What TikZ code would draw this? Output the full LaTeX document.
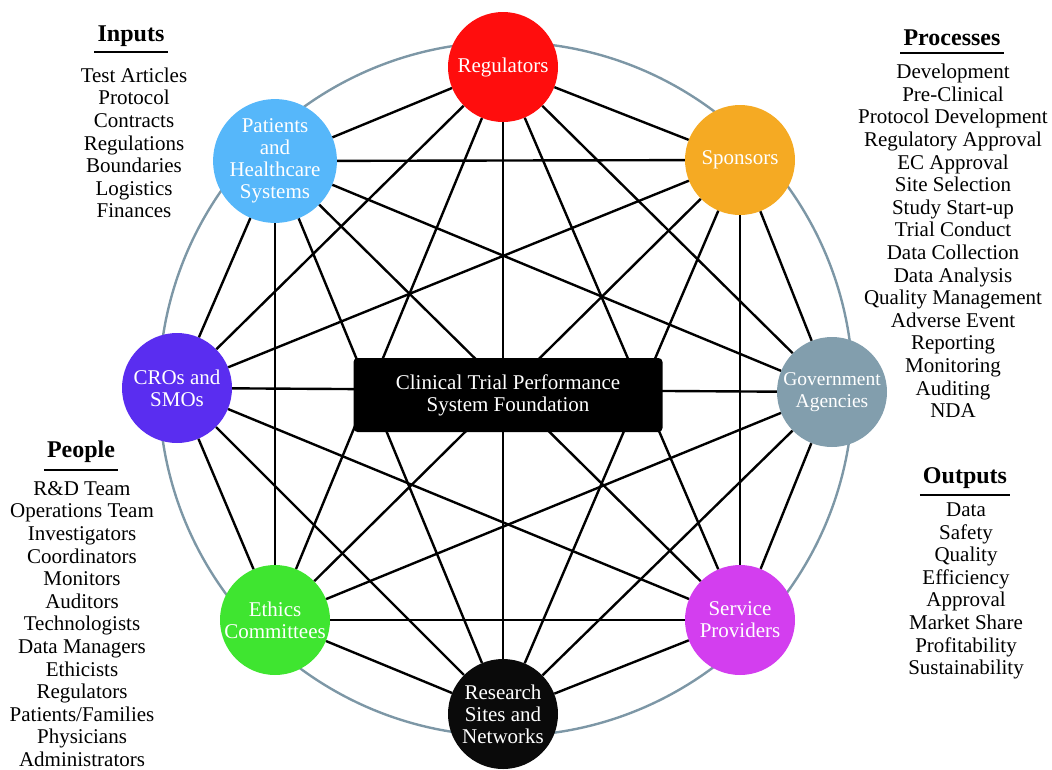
\documentclass[tikz,border=0pt]{standalone}
\usepackage{fontspec}
\setmainfont{Liberation Serif}
\definecolor{cReg}{RGB}{255,13,13}
\definecolor{cSpo}{RGB}{245,170,35}
\definecolor{cGov}{RGB}{130,158,173}
\definecolor{cSer}{RGB}{211,62,239}
\definecolor{cRes}{RGB}{10,10,10}
\definecolor{cEth}{RGB}{63,229,48}
\definecolor{cCro}{RGB}{90,45,240}
\definecolor{cPat}{RGB}{86,183,250}
\definecolor{cRing}{RGB}{125,151,166}
\begin{document}
\begin{tikzpicture}[x=1pt,y=-1pt,
  agent/.style={circle,minimum size=110pt,inner sep=0pt,align=center,text=white,font=\fontsize{21}{22}\selectfont},
  link/.style={line width=2.4pt,black},
  ring/.style={line width=2.4pt,draw=cRing},
  head/.style={font=\fontsize{24}{26}\selectfont\bfseries,inner xsep=3pt,inner ysep=0pt},
  list/.style={align=center,inner sep=0pt,font=\fontsize{21}{22.6}\selectfont},
  hrule/.style={line width=1.4pt},
  corebox/.style={fill=black,rounded corners=4pt,minimum width=309pt,minimum height=74pt,text=white,align=center,font=\fontsize{21}{22}\selectfont}
]
\useasboundingbox (0,0) rectangle (1052,769);

\draw[ring] (506,389) circle[radius=347pt];

\node[agent,fill=cReg] (n1) at (503,67) {Regulators};
\node[agent,fill=cSpo] (n2) at (740,160) {Sponsors};
\node[agent,fill=cGov,font=\fontsize{19.5}{22}\selectfont] (n3) at (832,392) {Government\\Agencies};
\node[agent,fill=cSer] (n4) at (740,620) {Service\\Providers};
\node[agent,fill=cRes] (n5) at (503,714) {Research\\Sites and\\Networks};
\node[agent,fill=cEth] (n6) at (275,620) {Ethics\\Committees};
\node[agent,fill=cCro] (n7) at (177,388) {CROs and\\SMOs};
\node[agent,fill=cPat] (n8) at (275,161) {Patients\\and\\Healthcare\\Systems};

\foreach \i [evaluate=\i as \s using int(\i+1)] in {1,...,7}
  \foreach \j in {\s,...,8}
    \draw[link] (n\i) -- (n\j);

\node[corebox] (core) at (508,395) {Clinical Trial Performance\\System Foundation};

% Inputs
\node[head] (inH) at (131,36) {Inputs};
\draw[hrule] (inH.west |- 0,52) -- (inH.east |- 0,52);
\node[list] (inL) at (134,143) {Test Articles\\Protocol\\Contracts\\Regulations\\Boundaries\\Logistics\\Finances};

% Processes
\node[head] (prH) at (952,38) {Processes};
\draw[hrule] (prH.west |- 0,53) -- (prH.east |- 0,53);
\node[list] (prL) at (953,241) {Development\\Pre-Clinical\\Protocol Development\\Regulatory Approval\\EC Approval\\Site Selection\\Study Start-up\\Trial Conduct\\Data Collection\\Data Analysis\\Quality Management\\Adverse Event\\Reporting\\Monitoring\\Auditing\\NDA};

% Outputs
\node[head] (ouH) at (965,478) {Outputs};
\draw[hrule] (ouH.west |- 0,495) -- (ouH.east |- 0,495);
\node[list] (ouL) at (966,591) {Data\\Safety\\Quality\\Efficiency\\Approval\\Market Share\\Profitability\\Sustainability};

% People
\node[head] (peH) at (81,452) {People};
\draw[hrule] (peH.west |- 0,470) -- (peH.east |- 0,470);
\node[list] (peL) at (82,624) {R\&D Team\\Operations Team\\Investigators\\Coordinators\\Monitors\\Auditors\\Technologists\\Data Managers\\Ethicists\\Regulators\\Patients/Families\\Physicians\\Administrators};
\end{tikzpicture}
\end{document}
